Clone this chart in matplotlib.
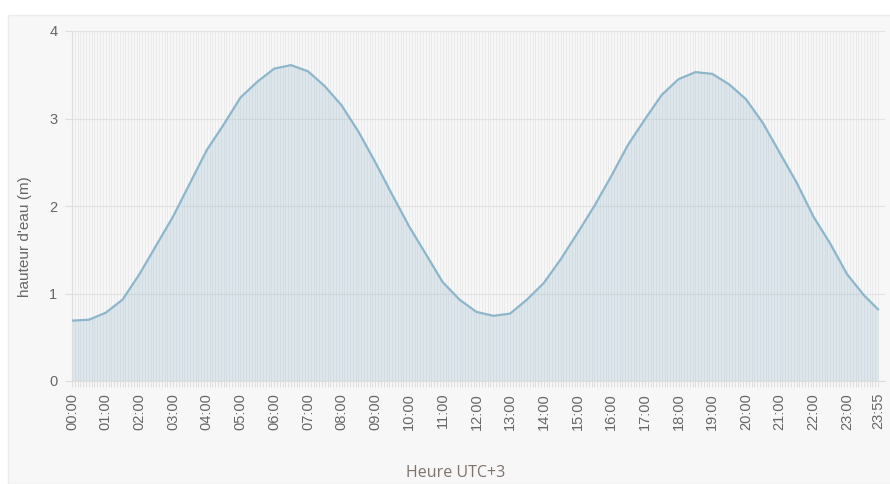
import numpy as np
import matplotlib
matplotlib.use("Agg")
import matplotlib.pyplot as plt
from matplotlib.patches import Rectangle

# toutes les étiquettes horaires (pas de 5 minutes)
heures = ["%02d:%02d" % (m // 60, m % 60) for m in range(0, 24 * 60, 5)]
# étiquettes affichées sur l'axe
etiquettes = ["%02d:00" % h for h in range(24)] + ["23:55"]

# hauteur d'eau (toutes les 30 min + 23:55)
heures_lues = ["%02d:%02d" % (h, m) for h in range(24) for m in (0, 30)] + ["23:55"]
hauteur = [0.69, 0.70, 0.78, 0.93, 1.22, 1.55, 1.88, 2.26, 2.64, 2.93,
           3.24, 3.42, 3.57, 3.61, 3.54, 3.37, 3.15, 2.85, 2.50, 2.13,
           1.77, 1.45, 1.13, 0.93, 0.79, 0.745, 0.77, 0.93, 1.12, 1.39,
           1.69, 2.00, 2.34, 2.70, 2.99, 3.27, 3.45, 3.53, 3.51, 3.39,
           3.22, 2.95, 2.61, 2.27, 1.88, 1.57, 1.22, 0.98, 0.82]

W, H = 890, 484
fig = plt.figure(figsize=(W / 100, H / 100), dpi=100)
fig.patch.set_facecolor("white")
# panneau gris clair
fig.patches.append(Rectangle((8 / W, 0), 1, 1 - 15 / H, transform=fig.transFigure,
                             facecolor="#f7f7f7", edgecolor="#ececec", lw=1, zorder=-10))

ax = fig.add_axes([72 / W, 103 / H, (885 - 72) / W, 350 / H])
ax.set_facecolor("none")

pos = [heures.index(t) for t in heures_lues]
couleur = "#8db6cb"
ax.fill_between(pos, hauteur, 0, color=couleur, alpha=0.25, lw=0, zorder=2)
ax.plot(pos, hauteur, color=couleur, lw=1.6, zorder=3, solid_joinstyle="round")

ax.set_xlim(0, 289.5)
ax.set_ylim(0, 4)

# ticks x
maj = [heures.index(t) for t in etiquettes]
ax.set_xticks(maj)
ax.set_xticklabels(etiquettes, rotation=90, fontsize=10.5, color="#666666",
                   family="Liberation Sans")
ax.set_xticks(range(len(heures)), minor=True)
ax.tick_params(axis="x", which="both", length=4.5, color="#d8d8d8", width=0.6, pad=4)

# ticks y
ax.set_yticks([0, 1, 2, 3, 4])
ax.set_yticklabels(["0", "1", "2", "3", "4"], fontsize=10.5, color="#666666",
                   family="Liberation Sans")
ax.tick_params(axis="y", length=5, color="#dddddd", width=0.8, pad=5.5)

# grille
ax.grid(axis="x", which="both", color="#e8e8e8", lw=0.6, zorder=1)
ax.grid(axis="y", which="major", color="#e3e3e3", lw=0.9, zorder=1)
ax.set_axisbelow(True)

for s in ["top", "right"]:
    ax.spines[s].set_visible(False)
ax.spines["left"].set_color("#dddddd")
ax.spines["bottom"].set_color("#dddddd")

fig.text(25 / W, 1 - 237 / H, "hauteur d'eau (m)", rotation=90, ha="center",
         va="center", fontsize=11, color="#666666", family="Liberation Sans")
fig.text(456 / W, 1 - 473 / H, "Heure UTC+3", ha="center", va="center",
         fontsize=11.5, color="#7f726b", family="Open Sans")

fig.savefig("out.png", dpi=100, facecolor=fig.get_facecolor())
